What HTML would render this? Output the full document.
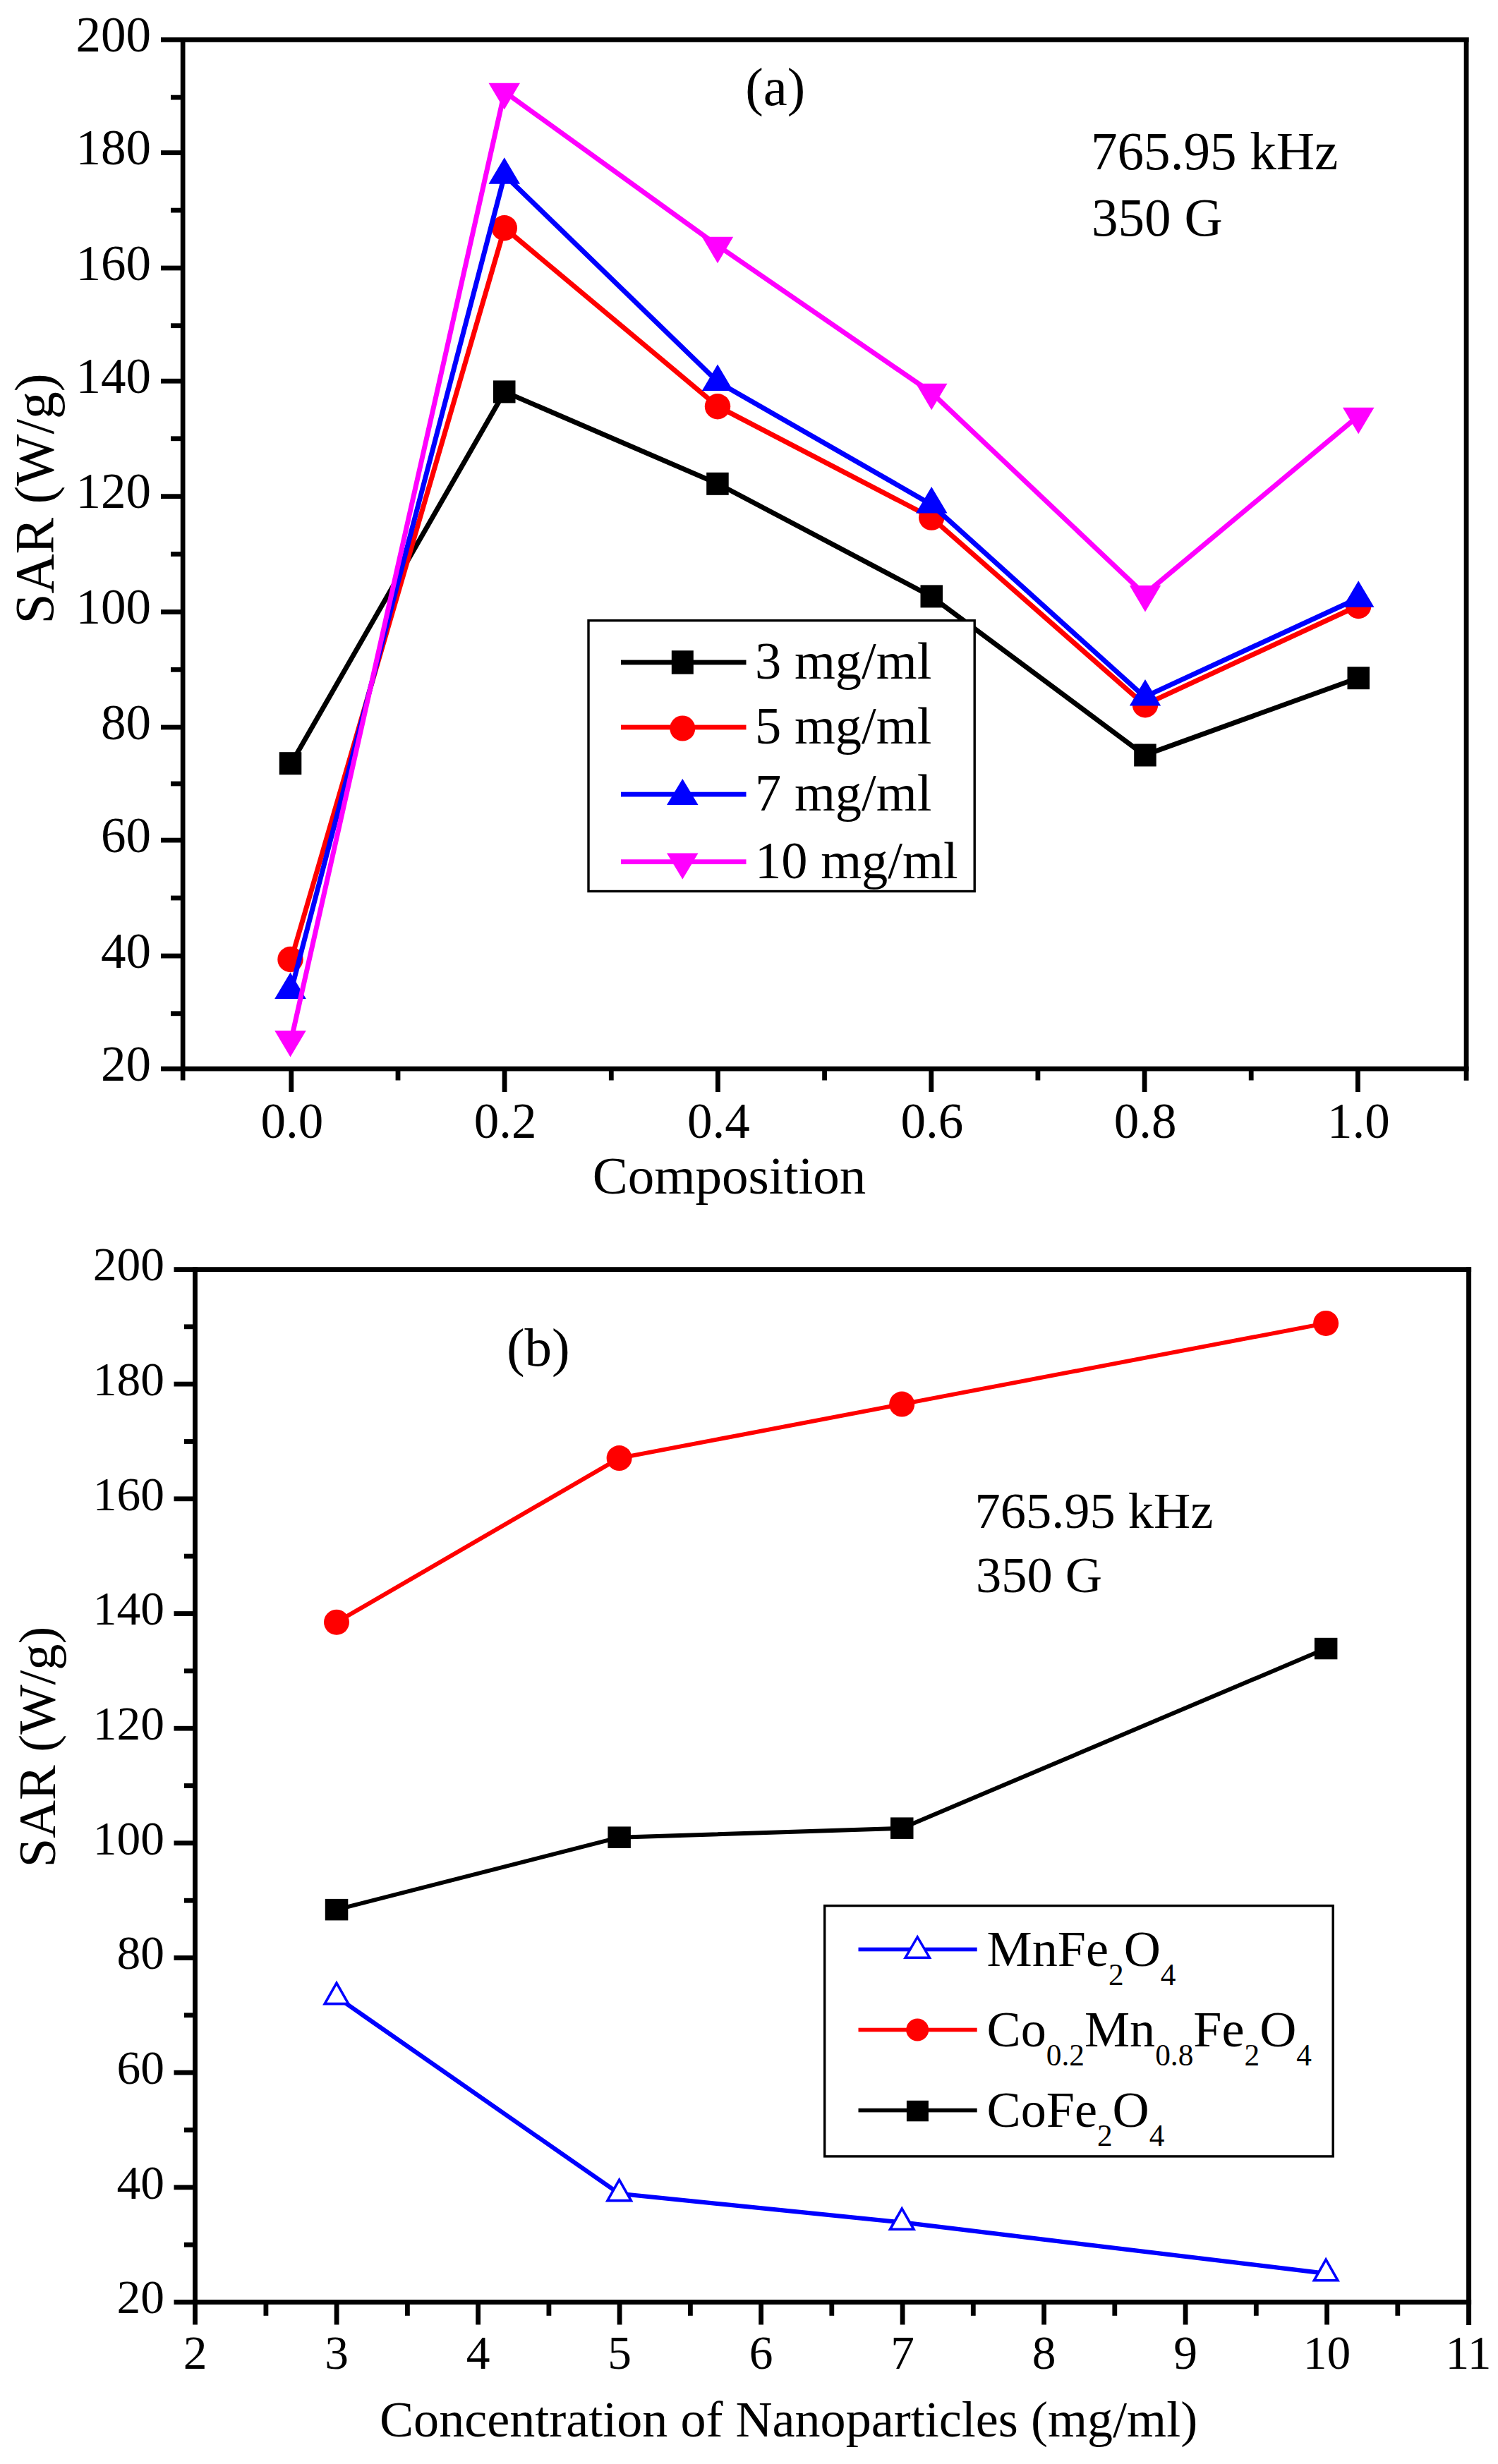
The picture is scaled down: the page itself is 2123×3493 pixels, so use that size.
<!DOCTYPE html>
<html lang="en"><head><meta charset="utf-8"><title>SAR plots</title>
<style>html,body{margin:0;padding:0;background:#fff}svg{display:block}text{font-family:"Liberation Serif", serif;fill:#000}</style>
</head><body>
<svg width="2123" height="3493" viewBox="0 0 2123 3493" role="img" aria-label="SAR versus composition and concentration">
<rect x="0" y="0" width="2123" height="3493" fill="#fff"/>
<g id="plot-a">
<polyline points="412.8,1082.2 715.1,555.4 1017.4,685.8 1319.8,845.4 1622.1,1070.5 1924.4,961.2" fill="none" stroke="#000000" stroke-width="7" stroke-linejoin="miter" stroke-linecap="butt"/>
<rect x="395.8" y="1066.2" width="31.5" height="32" fill="#000000"/>
<rect x="699" y="539.4" width="31.5" height="32" fill="#000000"/>
<rect x="1001.2" y="669.8" width="31.5" height="32" fill="#000000"/>
<rect x="1304.5" y="829.4" width="31.5" height="32" fill="#000000"/>
<rect x="1607.2" y="1054.5" width="31.5" height="32" fill="#000000"/>
<rect x="1909.5" y="945.2" width="31.5" height="32" fill="#000000"/>
<polyline points="412.8,1360 715.1,323.2 1017.4,576.2 1319.8,733.6 1622.1,999.2 1924.4,859" fill="none" stroke="#ff0000" stroke-width="7" stroke-linejoin="miter" stroke-linecap="butt"/>
<circle cx="411.5" cy="1360" r="18.2" fill="#ff0000"/>
<circle cx="714.8" cy="323.2" r="18.2" fill="#ff0000"/>
<circle cx="1017" cy="576.2" r="18.2" fill="#ff0000"/>
<circle cx="1320.2" cy="733.6" r="18.2" fill="#ff0000"/>
<circle cx="1623" cy="999.2" r="18.2" fill="#ff0000"/>
<circle cx="1925.2" cy="859" r="18.2" fill="#ff0000"/>
<polyline points="412.8,1403.5 715.1,248.2 1017.4,541.5 1319.8,715.1 1622.1,987.9 1924.4,848.2" fill="none" stroke="#0000ff" stroke-width="7" stroke-linejoin="miter" stroke-linecap="butt"/>
<polygon points="411.5,1378.5 433.8,1416 389.2,1416" fill="#0000ff"/>
<polygon points="714.8,223.2 737,260.7 692.5,260.7" fill="#0000ff"/>
<polygon points="1017,516.5 1039.2,554 994.8,554" fill="#0000ff"/>
<polygon points="1320.2,690.1 1342.5,727.6 1298,727.6" fill="#0000ff"/>
<polygon points="1623,962.9 1645.2,1000.4 1600.8,1000.4" fill="#0000ff"/>
<polygon points="1925.2,823.2 1947.5,860.7 1903,860.7" fill="#0000ff"/>
<polyline points="412.8,1473.6 715.1,130.2 1017.4,348.3 1319.8,556.3 1622.1,842.5 1924.4,590.3" fill="none" stroke="#ff00ff" stroke-width="7" stroke-linejoin="miter" stroke-linecap="butt"/>
<polygon points="411.5,1498.6 433.8,1461.1 389.2,1461.1" fill="#ff00ff"/>
<polygon points="714.8,155.2 737,117.7 692.5,117.7" fill="#ff00ff"/>
<polygon points="1017,373.3 1039.2,335.8 994.8,335.8" fill="#ff00ff"/>
<polygon points="1320.2,581.3 1342.5,543.8 1298,543.8" fill="#ff00ff"/>
<polygon points="1623,867.5 1645.2,830 1600.8,830" fill="#ff00ff"/>
<polygon points="1925.2,615.3 1947.5,577.8 1903,577.8" fill="#ff00ff"/>
<rect x="228" y="53" width="1853.5" height="6.8" fill="#000"/>
<rect x="228" y="1511.7" width="1853.5" height="6.8" fill="#000"/>
<rect x="255.8" y="53" width="6.7" height="1478.5" fill="#000"/>
<rect x="2074.7" y="53" width="6.8" height="1478.8" fill="#000"/>
<rect x="242" y="1433.4" width="14.8" height="6.8" fill="#000"/>
<rect x="228" y="1351.7" width="28.8" height="6.8" fill="#000"/>
<rect x="242" y="1269.6" width="14.8" height="6.8" fill="#000"/>
<rect x="228" y="1187.7" width="28.8" height="6.8" fill="#000"/>
<rect x="242" y="1107.6" width="14.8" height="6.8" fill="#000"/>
<rect x="228" y="1027.6" width="28.8" height="6.8" fill="#000"/>
<rect x="242" y="945.9" width="14.8" height="6.8" fill="#000"/>
<rect x="228" y="864.1" width="28.8" height="6.8" fill="#000"/>
<rect x="242" y="782.1" width="14.8" height="6.8" fill="#000"/>
<rect x="228" y="700.3" width="28.8" height="6.8" fill="#000"/>
<rect x="242" y="618.4" width="14.8" height="6.8" fill="#000"/>
<rect x="228" y="536.8" width="28.8" height="6.8" fill="#000"/>
<rect x="242" y="458.3" width="14.8" height="6.8" fill="#000"/>
<rect x="228" y="376.6" width="28.8" height="6.8" fill="#000"/>
<rect x="242" y="294.7" width="14.8" height="6.8" fill="#000"/>
<rect x="228" y="213.2" width="28.8" height="6.8" fill="#000"/>
<rect x="242" y="134.7" width="14.8" height="6.8" fill="#000"/>
<rect x="409.4" y="1517.5" width="6.8" height="30.5" fill="#000"/>
<rect x="560.6" y="1517.5" width="6.8" height="14" fill="#000"/>
<rect x="711.7" y="1517.5" width="6.8" height="30.5" fill="#000"/>
<rect x="862.9" y="1517.5" width="6.8" height="14" fill="#000"/>
<rect x="1014" y="1517.5" width="6.8" height="30.5" fill="#000"/>
<rect x="1165.2" y="1517.5" width="6.8" height="14" fill="#000"/>
<rect x="1316.4" y="1517.5" width="6.8" height="30.5" fill="#000"/>
<rect x="1467.5" y="1517.5" width="6.8" height="14" fill="#000"/>
<rect x="1618.7" y="1517.5" width="6.8" height="30.5" fill="#000"/>
<rect x="1769.8" y="1517.5" width="6.8" height="14" fill="#000"/>
<rect x="1921" y="1517.5" width="6.8" height="30.5" fill="#000"/>
<text x="214" y="1531.6" font-size="71" text-anchor="end">20</text>
<text x="214" y="1371.6" font-size="71" text-anchor="end">40</text>
<text x="214" y="1207.6" font-size="71" text-anchor="end">60</text>
<text x="214" y="1047.5" font-size="71" text-anchor="end">80</text>
<text x="214" y="884" font-size="71" text-anchor="end">100</text>
<text x="214" y="720.2" font-size="71" text-anchor="end">120</text>
<text x="214" y="556.7" font-size="71" text-anchor="end">140</text>
<text x="214" y="396.5" font-size="71" text-anchor="end">160</text>
<text x="214" y="233.1" font-size="71" text-anchor="end">180</text>
<text x="214" y="72.9" font-size="71" text-anchor="end">200</text>
<text x="413.8" y="1613" font-size="71" text-anchor="middle">0.0</text>
<text x="716.1" y="1613" font-size="71" text-anchor="middle">0.2</text>
<text x="1018.4" y="1613" font-size="71" text-anchor="middle">0.4</text>
<text x="1320.8" y="1613" font-size="71" text-anchor="middle">0.6</text>
<text x="1623.1" y="1613" font-size="71" text-anchor="middle">0.8</text>
<text x="1925.4" y="1613" font-size="71" text-anchor="middle">1.0</text>
<text x="839.7" y="1691.9" font-size="75" text-anchor="start">Composition</text>
<text transform="translate(75.1,707) rotate(-90)" x="0" y="0" font-size="77.5" text-anchor="middle">SAR (W/g)</text>
<text x="1098.8" y="149.3" font-size="76.5" text-anchor="middle">(a)</text>
<text x="1546" y="240.2" font-size="75.1" text-anchor="start">765.95 kHz</text>
<text x="1547" y="333.7" font-size="75.1" text-anchor="start">350 G</text>
<rect x="834" y="879.7" width="547.2" height="383.8" fill="#fff" stroke="#000" stroke-width="3.4"/>
<rect x="880" y="935.6" width="177.5" height="6.8" fill="#000000"/>
<rect x="951.8" y="922.2" width="31" height="33.5" fill="#000000"/>
<text x="1070" y="962.2" font-size="74.5" text-anchor="start">3 mg/ml</text>
<rect x="880" y="1027.6" width="177.5" height="6.8" fill="#ff0000"/>
<circle cx="967.3" cy="1032.5" r="18" fill="#ff0000"/>
<text x="1070" y="1054.2" font-size="74.5" text-anchor="start">5 mg/ml</text>
<rect x="880" y="1122.7" width="177.5" height="6.8" fill="#0000ff"/>
<polygon points="967.3,1103.9 989.5,1140.9 945,1140.9" fill="#0000ff"/>
<text x="1070" y="1149.3" font-size="74.5" text-anchor="start">7 mg/ml</text>
<rect x="880" y="1218.3" width="177.5" height="6.8" fill="#ff00ff"/>
<polygon points="967.3,1246.4 989.5,1209.4 945,1209.4" fill="#ff00ff"/>
<text x="1070" y="1244.9" font-size="74.5" text-anchor="start">10 mg/ml</text>
</g>
<g id="plot-b">
<polyline points="477,2707.2 877.6,2604.7 1278.2,2591.7 1879.1,2337.1" fill="none" stroke="#000000" stroke-width="6" stroke-linejoin="miter" stroke-linecap="butt"/>
<polyline points="477,2299.7 877.6,2067.1 1278.2,1990.6 1879.1,1875.9" fill="none" stroke="#ff0000" stroke-width="6" stroke-linejoin="miter" stroke-linecap="butt"/>
<polyline points="477,2830.8 877.6,3109.8 1278.2,3150.4 1879.1,3222.8" fill="none" stroke="#0000ff" stroke-width="6.2" stroke-linejoin="miter" stroke-linecap="butt"/>
<rect x="460.8" y="2691.9" width="32.5" height="30.5" fill="#000000"/>
<rect x="861.4" y="2589.4" width="32.5" height="30.5" fill="#000000"/>
<rect x="1262" y="2576.4" width="32.5" height="30.5" fill="#000000"/>
<rect x="1862.9" y="2321.8" width="32.5" height="30.5" fill="#000000"/>
<circle cx="477" cy="2299.7" r="18" fill="#ff0000"/>
<circle cx="877.6" cy="2067.1" r="18" fill="#ff0000"/>
<circle cx="1278.2" cy="1990.6" r="18" fill="#ff0000"/>
<circle cx="1879.1" cy="1875.9" r="18" fill="#ff0000"/>
<polygon points="477,2811.1 493.8,2840.6 460.2,2840.6" fill="#fff" stroke="#0000ff" stroke-width="3.6" stroke-linejoin="miter"/>
<polygon points="877.6,3090.1 894.4,3119.6 860.9,3119.6" fill="#fff" stroke="#0000ff" stroke-width="3.6" stroke-linejoin="miter"/>
<polygon points="1278.2,3130.8 1295,3160.3 1261.5,3160.3" fill="#fff" stroke="#0000ff" stroke-width="3.6" stroke-linejoin="miter"/>
<polygon points="1879.1,3203.2 1895.9,3232.7 1862.4,3232.7" fill="#fff" stroke="#0000ff" stroke-width="3.6" stroke-linejoin="miter"/>
<rect x="246.5" y="1796.2" width="1838.6" height="6.8" fill="#000"/>
<rect x="246.5" y="3260.1" width="1838.6" height="6.8" fill="#000"/>
<rect x="273.1" y="1796.2" width="6.8" height="1499.3" fill="#000"/>
<rect x="2078.1" y="1796.2" width="7" height="1499.8" fill="#000"/>
<rect x="261" y="3178.8" width="13.1" height="6.8" fill="#000"/>
<rect x="246.5" y="3097.4" width="27.6" height="6.8" fill="#000"/>
<rect x="261" y="3016.1" width="13.1" height="6.8" fill="#000"/>
<rect x="246.5" y="2934.8" width="27.6" height="6.8" fill="#000"/>
<rect x="261" y="2853.4" width="13.1" height="6.8" fill="#000"/>
<rect x="246.5" y="2772.1" width="27.6" height="6.8" fill="#000"/>
<rect x="261" y="2690.8" width="13.1" height="6.8" fill="#000"/>
<rect x="246.5" y="2609.4" width="27.6" height="6.8" fill="#000"/>
<rect x="261" y="2528.1" width="13.1" height="6.8" fill="#000"/>
<rect x="246.5" y="2446.8" width="27.6" height="6.8" fill="#000"/>
<rect x="261" y="2365.4" width="13.1" height="6.8" fill="#000"/>
<rect x="246.5" y="2284.1" width="27.6" height="6.8" fill="#000"/>
<rect x="261" y="2202.7" width="13.1" height="6.8" fill="#000"/>
<rect x="246.5" y="2121.4" width="27.6" height="6.8" fill="#000"/>
<rect x="261" y="2040.1" width="13.1" height="6.8" fill="#000"/>
<rect x="246.5" y="1958.7" width="27.6" height="6.8" fill="#000"/>
<rect x="261" y="1877.4" width="13.1" height="6.8" fill="#000"/>
<rect x="373.5" y="3265.9" width="6.8" height="16.9" fill="#000"/>
<rect x="473.7" y="3265.9" width="6.8" height="29.6" fill="#000"/>
<rect x="574" y="3265.9" width="6.8" height="16.9" fill="#000"/>
<rect x="674.2" y="3265.9" width="6.8" height="29.6" fill="#000"/>
<rect x="774.5" y="3265.9" width="6.8" height="16.9" fill="#000"/>
<rect x="874.7" y="3265.9" width="6.8" height="29.6" fill="#000"/>
<rect x="975" y="3265.9" width="6.8" height="16.9" fill="#000"/>
<rect x="1075.2" y="3265.9" width="6.8" height="29.6" fill="#000"/>
<rect x="1175.4" y="3265.9" width="6.8" height="16.9" fill="#000"/>
<rect x="1275.7" y="3265.9" width="6.8" height="29.6" fill="#000"/>
<rect x="1375.9" y="3265.9" width="6.8" height="16.9" fill="#000"/>
<rect x="1476.2" y="3265.9" width="6.8" height="29.6" fill="#000"/>
<rect x="1576.4" y="3265.9" width="6.8" height="16.9" fill="#000"/>
<rect x="1676.7" y="3265.9" width="6.8" height="29.6" fill="#000"/>
<rect x="1776.9" y="3265.9" width="6.8" height="16.9" fill="#000"/>
<rect x="1877.2" y="3265.9" width="6.8" height="29.6" fill="#000"/>
<rect x="1977.4" y="3265.9" width="6.8" height="16.9" fill="#000"/>
<text x="233" y="3279.3" font-size="67.5" text-anchor="end">20</text>
<text x="233" y="3116.6" font-size="67.5" text-anchor="end">40</text>
<text x="233" y="2954" font-size="67.5" text-anchor="end">60</text>
<text x="233" y="2791.3" font-size="67.5" text-anchor="end">80</text>
<text x="233" y="2628.6" font-size="67.5" text-anchor="end">100</text>
<text x="233" y="2466" font-size="67.5" text-anchor="end">120</text>
<text x="233" y="2303.3" font-size="67.5" text-anchor="end">140</text>
<text x="233" y="2140.6" font-size="67.5" text-anchor="end">160</text>
<text x="233" y="1977.9" font-size="67.5" text-anchor="end">180</text>
<text x="233" y="1815.3" font-size="67.5" text-anchor="end">200</text>
<text x="276.6" y="3357.5" font-size="67.5" text-anchor="middle">2</text>
<text x="477.1" y="3357.5" font-size="67.5" text-anchor="middle">3</text>
<text x="677.6" y="3357.5" font-size="67.5" text-anchor="middle">4</text>
<text x="878.1" y="3357.5" font-size="67.5" text-anchor="middle">5</text>
<text x="1078.6" y="3357.5" font-size="67.5" text-anchor="middle">6</text>
<text x="1279.1" y="3357.5" font-size="67.5" text-anchor="middle">7</text>
<text x="1479.6" y="3357.5" font-size="67.5" text-anchor="middle">8</text>
<text x="1680.1" y="3357.5" font-size="67.5" text-anchor="middle">9</text>
<text x="1880.6" y="3357.5" font-size="67.5" text-anchor="middle">10</text>
<text x="2081.1" y="3357.5" font-size="67.5" text-anchor="middle">11</text>
<text x="538" y="3454.2" font-size="72.1" text-anchor="start">Concentration of Nanoparticles (mg/ml)</text>
<text transform="translate(78.1,2476.5) rotate(-90)" x="0" y="0" font-size="74.5" text-anchor="middle">SAR (W/g)</text>
<text x="762.8" y="1936.4" font-size="77" text-anchor="middle">(b)</text>
<text x="1381.6" y="2166" font-size="72.4" text-anchor="start">765.95 kHz</text>
<text x="1383" y="2257.1" font-size="72.4" text-anchor="start">350 G</text>
<rect x="1168.7" y="2701.6" width="720.5" height="355.3" fill="#fff" stroke="#000" stroke-width="3.4"/>
<rect x="1216.5" y="2760.7" width="168.2" height="5.6" fill="#0000ff"/>
<polygon points="1300.2,2745.8 1317.5,2775.3 1283,2775.3" fill="#fff" stroke="#0000ff" stroke-width="3.4" stroke-linejoin="miter"/>
<text x="1398.5" y="2786.9" font-size="72.2" text-anchor="start">MnFe<tspan font-size="43.3" dy="27">2</tspan><tspan dy="-27">O</tspan><tspan font-size="43.3" dy="27">4</tspan></text>
<rect x="1216.5" y="2874.7" width="168.2" height="5.6" fill="#ff0000"/>
<circle cx="1300.2" cy="2877.5" r="16" fill="#ff0000"/>
<text x="1398.5" y="2900.9" font-size="72.2" text-anchor="start">Co<tspan font-size="43.3" dy="27">0.2</tspan><tspan dy="-27">Mn</tspan><tspan font-size="43.3" dy="27">0.8</tspan><tspan dy="-27">Fe</tspan><tspan font-size="43.3" dy="27">2</tspan><tspan dy="-27">O</tspan><tspan font-size="43.3" dy="27">4</tspan></text>
<rect x="1216.5" y="2988.8" width="168.2" height="5.6" fill="#000000"/>
<rect x="1284.9" y="2977.8" width="31" height="29.5" fill="#000000"/>
<text x="1398.5" y="3015" font-size="72.2" text-anchor="start">CoFe<tspan font-size="43.3" dy="27">2</tspan><tspan dy="-27">O</tspan><tspan font-size="43.3" dy="27">4</tspan></text>
</g>
</svg>
</body></html>
